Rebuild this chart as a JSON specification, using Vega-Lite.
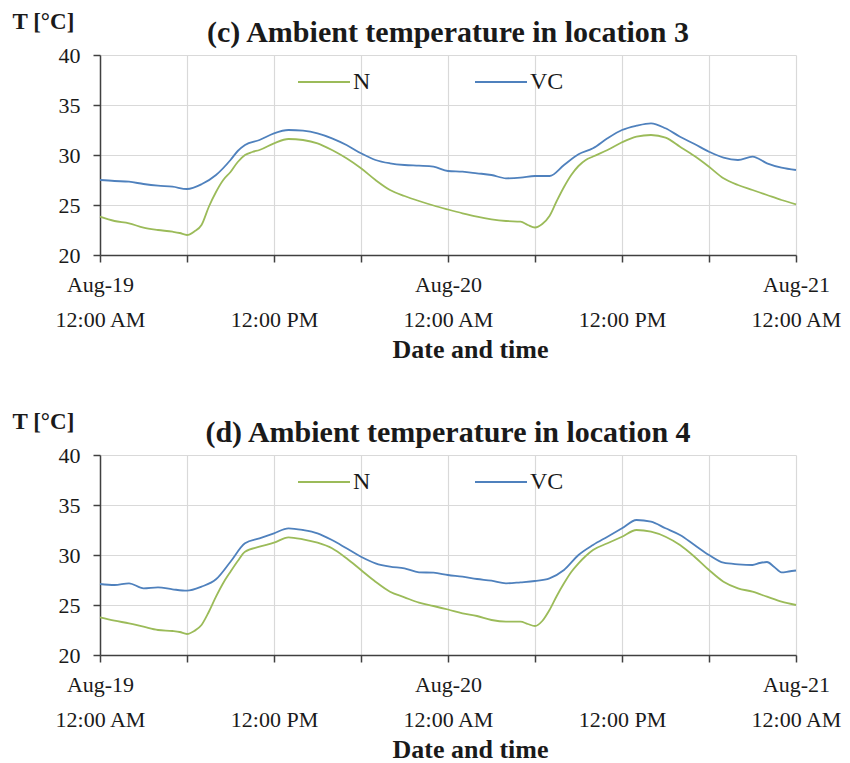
{
  "$schema": "https://vega.github.io/schema/vega-lite/v6.json",
  "padding": {"left": 12, "top": 10, "right": 0, "bottom": 0},
  "background": "white",
  "bounds": "flush",
  "spacing": 200,
  "datasets": {
    "c": [
      {"s":"N","h":0,"T":23.83},{"s":"N","h":1,"T":23.4},{"s":"N","h":2,"T":23.17},{"s":"N","h":3,"T":22.73},{"s":"N","h":4,"T":22.5},{"s":"N","h":5,"T":22.33},{"s":"N","h":5.5,"T":22.2},{"s":"N","h":6,"T":22.0},{"s":"N","h":6.5,"T":22.35},{"s":"N","h":7,"T":23.0},{"s":"N","h":7.5,"T":24.8},{"s":"N","h":8,"T":26.3},{"s":"N","h":8.5,"T":27.5},{"s":"N","h":9,"T":28.3},{"s":"N","h":9.5,"T":29.3},{"s":"N","h":10,"T":30.0},{"s":"N","h":10.5,"T":30.3},{"s":"N","h":11,"T":30.5},{"s":"N","h":12,"T":31.17},{"s":"N","h":13,"T":31.6},{"s":"N","h":14,"T":31.5},{"s":"N","h":15,"T":31.17},{"s":"N","h":16,"T":30.5},{"s":"N","h":17,"T":29.67},{"s":"N","h":18,"T":28.67},{"s":"N","h":19,"T":27.5},{"s":"N","h":20,"T":26.5},{"s":"N","h":21,"T":25.9},{"s":"N","h":22,"T":25.4},{"s":"N","h":23,"T":24.95},{"s":"N","h":24,"T":24.55},{"s":"N","h":25,"T":24.17},{"s":"N","h":26,"T":23.83},{"s":"N","h":27,"T":23.57},{"s":"N","h":28,"T":23.4},{"s":"N","h":29,"T":23.33},{"s":"N","h":29.5,"T":23.0},{"s":"N","h":30,"T":22.75},{"s":"N","h":30.5,"T":23.1},{"s":"N","h":31,"T":23.9},{"s":"N","h":31.5,"T":25.4},{"s":"N","h":32,"T":26.8},{"s":"N","h":32.5,"T":28.0},{"s":"N","h":33,"T":28.9},{"s":"N","h":33.5,"T":29.5},{"s":"N","h":34,"T":29.85},{"s":"N","h":35,"T":30.5},{"s":"N","h":36,"T":31.27},{"s":"N","h":37,"T":31.83},{"s":"N","h":38,"T":32.0},{"s":"N","h":39,"T":31.73},{"s":"N","h":40,"T":30.83},{"s":"N","h":41,"T":29.9},{"s":"N","h":42,"T":28.83},{"s":"N","h":43,"T":27.67},{"s":"N","h":44,"T":27.0},{"s":"N","h":45,"T":26.5},{"s":"N","h":46,"T":26.0},{"s":"N","h":47,"T":25.5},{"s":"N","h":48,"T":25.07},
      {"s":"VC","h":0,"T":27.5},{"s":"VC","h":1,"T":27.4},{"s":"VC","h":2,"T":27.33},{"s":"VC","h":3,"T":27.1},{"s":"VC","h":4,"T":26.93},{"s":"VC","h":5,"T":26.83},{"s":"VC","h":6,"T":26.6},{"s":"VC","h":7,"T":27.07},{"s":"VC","h":8,"T":28.0},{"s":"VC","h":9,"T":29.5},{"s":"VC","h":9.5,"T":30.4},{"s":"VC","h":10,"T":31.0},{"s":"VC","h":11,"T":31.5},{"s":"VC","h":12,"T":32.17},{"s":"VC","h":13,"T":32.5},{"s":"VC","h":14,"T":32.43},{"s":"VC","h":15,"T":32.17},{"s":"VC","h":16,"T":31.67},{"s":"VC","h":17,"T":31.0},{"s":"VC","h":18,"T":30.17},{"s":"VC","h":19,"T":29.5},{"s":"VC","h":20,"T":29.17},{"s":"VC","h":21,"T":29.0},{"s":"VC","h":22,"T":28.93},{"s":"VC","h":23,"T":28.83},{"s":"VC","h":24,"T":28.4},{"s":"VC","h":25,"T":28.33},{"s":"VC","h":26,"T":28.17},{"s":"VC","h":27,"T":28.0},{"s":"VC","h":28,"T":27.67},{"s":"VC","h":29,"T":27.73},{"s":"VC","h":30,"T":27.9},{"s":"VC","h":31,"T":27.9},{"s":"VC","h":32,"T":29.0},{"s":"VC","h":33,"T":30.07},{"s":"VC","h":34,"T":30.67},{"s":"VC","h":35,"T":31.67},{"s":"VC","h":36,"T":32.5},{"s":"VC","h":37,"T":32.93},{"s":"VC","h":38,"T":33.17},{"s":"VC","h":39,"T":32.67},{"s":"VC","h":40,"T":31.83},{"s":"VC","h":41,"T":31.1},{"s":"VC","h":42,"T":30.33},{"s":"VC","h":43,"T":29.73},{"s":"VC","h":44,"T":29.5},{"s":"VC","h":45,"T":29.83},{"s":"VC","h":46,"T":29.17},{"s":"VC","h":47,"T":28.73},{"s":"VC","h":48,"T":28.5}
    ],
    "d": [
      {"s":"N","h":0,"T":23.77},{"s":"N","h":1,"T":23.43},{"s":"N","h":2,"T":23.17},{"s":"N","h":3,"T":22.83},{"s":"N","h":4,"T":22.5},{"s":"N","h":5,"T":22.4},{"s":"N","h":5.5,"T":22.3},{"s":"N","h":6,"T":22.1},{"s":"N","h":6.5,"T":22.4},{"s":"N","h":7,"T":23.0},{"s":"N","h":7.5,"T":24.3},{"s":"N","h":8,"T":25.83},{"s":"N","h":8.5,"T":27.2},{"s":"N","h":9,"T":28.33},{"s":"N","h":9.5,"T":29.4},{"s":"N","h":10,"T":30.33},{"s":"N","h":11,"T":30.83},{"s":"N","h":12,"T":31.23},{"s":"N","h":13,"T":31.77},{"s":"N","h":14,"T":31.57},{"s":"N","h":15,"T":31.23},{"s":"N","h":16,"T":30.67},{"s":"N","h":17,"T":29.67},{"s":"N","h":18,"T":28.5},{"s":"N","h":19,"T":27.33},{"s":"N","h":20,"T":26.33},{"s":"N","h":21,"T":25.77},{"s":"N","h":22,"T":25.23},{"s":"N","h":23,"T":24.9},{"s":"N","h":24,"T":24.55},{"s":"N","h":25,"T":24.17},{"s":"N","h":26,"T":23.9},{"s":"N","h":27,"T":23.5},{"s":"N","h":28,"T":23.33},{"s":"N","h":29,"T":23.33},{"s":"N","h":29.5,"T":23.1},{"s":"N","h":30,"T":22.9},{"s":"N","h":30.5,"T":23.4},{"s":"N","h":31,"T":24.5},{"s":"N","h":31.5,"T":25.9},{"s":"N","h":32,"T":27.17},{"s":"N","h":32.5,"T":28.3},{"s":"N","h":33,"T":29.17},{"s":"N","h":33.5,"T":29.9},{"s":"N","h":34,"T":30.5},{"s":"N","h":35,"T":31.17},{"s":"N","h":36,"T":31.83},{"s":"N","h":37,"T":32.5},{"s":"N","h":38,"T":32.33},{"s":"N","h":39,"T":31.83},{"s":"N","h":40,"T":31.0},{"s":"N","h":41,"T":29.83},{"s":"N","h":42,"T":28.5},{"s":"N","h":43,"T":27.33},{"s":"N","h":44,"T":26.67},{"s":"N","h":45,"T":26.33},{"s":"N","h":46,"T":25.83},{"s":"N","h":47,"T":25.33},{"s":"N","h":48,"T":25.0},
      {"s":"VC","h":0,"T":27.1},{"s":"VC","h":1,"T":27.0},{"s":"VC","h":2,"T":27.17},{"s":"VC","h":3,"T":26.67},{"s":"VC","h":4,"T":26.77},{"s":"VC","h":5,"T":26.57},{"s":"VC","h":6,"T":26.43},{"s":"VC","h":7,"T":26.83},{"s":"VC","h":8,"T":27.57},{"s":"VC","h":9,"T":29.33},{"s":"VC","h":10,"T":31.17},{"s":"VC","h":11,"T":31.67},{"s":"VC","h":12,"T":32.17},{"s":"VC","h":13,"T":32.67},{"s":"VC","h":14,"T":32.5},{"s":"VC","h":15,"T":32.17},{"s":"VC","h":16,"T":31.5},{"s":"VC","h":17,"T":30.67},{"s":"VC","h":18,"T":29.83},{"s":"VC","h":19,"T":29.17},{"s":"VC","h":20,"T":28.83},{"s":"VC","h":21,"T":28.67},{"s":"VC","h":22,"T":28.27},{"s":"VC","h":23,"T":28.23},{"s":"VC","h":24,"T":28.0},{"s":"VC","h":25,"T":27.83},{"s":"VC","h":26,"T":27.6},{"s":"VC","h":27,"T":27.43},{"s":"VC","h":28,"T":27.17},{"s":"VC","h":29,"T":27.27},{"s":"VC","h":30,"T":27.4},{"s":"VC","h":31,"T":27.67},{"s":"VC","h":32,"T":28.5},{"s":"VC","h":33,"T":30.0},{"s":"VC","h":34,"T":31.0},{"s":"VC","h":35,"T":31.83},{"s":"VC","h":36,"T":32.67},{"s":"VC","h":37,"T":33.5},{"s":"VC","h":38,"T":33.33},{"s":"VC","h":39,"T":32.67},{"s":"VC","h":40,"T":32.0},{"s":"VC","h":41,"T":31.0},{"s":"VC","h":42,"T":30.0},{"s":"VC","h":43,"T":29.23},{"s":"VC","h":44,"T":29.07},{"s":"VC","h":45,"T":29.0},{"s":"VC","h":45.5,"T":29.2},{"s":"VC","h":46,"T":29.3},{"s":"VC","h":46.5,"T":28.8},{"s":"VC","h":47,"T":28.27},{"s":"VC","h":47.5,"T":28.35},{"s":"VC","h":48,"T":28.45}
    ]
  },
  "vconcat": [
    {
      "width": 696, "height": 200,
      "title": {"text": "(c) Ambient temperature in location 3"},
      "data": {"name": "c"},
      "mark": {"type": "line", "interpolate": "monotone", "strokeWidth": 1.8},
      "encoding": {
        "x": {"field": "h", "type": "quantitative", "scale": {"domain": [0, 48], "nice": false, "zero": false},
          "axis": {"values": [0,6,12,18,24,30,36,42,48], "labelExpr": "datum.value==0 ? ['Aug-19','12:00 AM'] : datum.value==24 ? ['Aug-20','12:00 AM'] : datum.value==48 ? ['Aug-21','12:00 AM'] : (datum.value==12 || datum.value==36) ? ['','12:00 PM'] : ''", "title": "Date and time", "titleX": 370, "titleY": 81, "titleBaseline": "top", "titleAlign": "center", "titleAnchor": null}},
        "y": {"field": "T", "type": "quantitative", "scale": {"domain": [20, 40], "nice": false, "zero": false},
          "axis": {"values": [20,25,30,35,40], "title": "T [°C]", "titleAngle": 0, "titleX": -88, "titleY": -27, "titleAlign": "left", "titleBaseline": "alphabetic", "titleFontSize": 23}},
        "color": {"field": "s", "type": "nominal", "scale": {"domain": ["N","VC"], "range": ["#9BBB59","#4F81BD"]},
          "legend": {"orient": "none", "legendX": 197, "legendY": 0, "direction": "horizontal", "title": null}}
      }
    },
    {
      "width": 696, "height": 200,
      "title": {"text": "(d) Ambient temperature in location 4"},
      "data": {"name": "d"},
      "mark": {"type": "line", "interpolate": "monotone", "strokeWidth": 1.8},
      "encoding": {
        "x": {"field": "h", "type": "quantitative", "scale": {"domain": [0, 48], "nice": false, "zero": false},
          "axis": {"values": [0,6,12,18,24,30,36,42,48], "labelExpr": "datum.value==0 ? ['Aug-19','12:00 AM'] : datum.value==24 ? ['Aug-20','12:00 AM'] : datum.value==48 ? ['Aug-21','12:00 AM'] : (datum.value==12 || datum.value==36) ? ['','12:00 PM'] : ''", "title": "Date and time", "titleX": 370, "titleY": 81, "titleBaseline": "top", "titleAlign": "center", "titleAnchor": null}},
        "y": {"field": "T", "type": "quantitative", "scale": {"domain": [20, 40], "nice": false, "zero": false},
          "axis": {"values": [20,25,30,35,40], "title": "T [°C]", "titleAngle": 0, "titleX": -88, "titleY": -27, "titleAlign": "left", "titleBaseline": "alphabetic", "titleFontSize": 23}},
        "color": {"field": "s", "type": "nominal", "scale": {"domain": ["N","VC"], "range": ["#9BBB59","#4F81BD"]},
          "legend": {"orient": "none", "legendX": 197, "legendY": 0, "direction": "horizontal", "title": null}}
      }
    }
  ],
  "resolve": {"legend": {"color": "independent"}},
  "config": {
    "font": "Liberation Serif",
    "view": {"stroke": null},
    "axis": {
      "labelFont": "Liberation Serif", "labelFontSize": 22, "labelColor": "#1a1a1a",
      "titleFont": "Liberation Serif", "titleFontSize": 26, "titleFontWeight": "bold", "titleColor": "#1a1a1a",
      "domainColor": "#404040", "domainWidth": 1.5, "tickColor": "#404040", "tickWidth": 1.5, "tickSize": 7,
      "gridColor": "#d9d9d9", "gridWidth": 1.2,
      "labelFlush": false, "labelOverlap": false, "labelBound": false
    },
    "axisX": {"labelPadding": 12, "labelLineHeight": 35, "labelAlign": "center", "labelBaseline": "top", "labelDx": 4},
    "axisY": {"labelPadding": 13},
    "legend": {
      "labelFont": "Liberation Serif", "labelFontSize": 24, "labelColor": "#1a1a1a",
      "symbolType": "stroke", "symbolSize": 2704, "symbolStrokeWidth": 1.8, "labelOffset": 2, "columnPadding": 100
    },
    "title": {"font": "Liberation Serif", "fontSize": 30, "fontWeight": "bold", "color": "#1a1a1a", "anchor": "middle", "offset": -38}
  }
}
